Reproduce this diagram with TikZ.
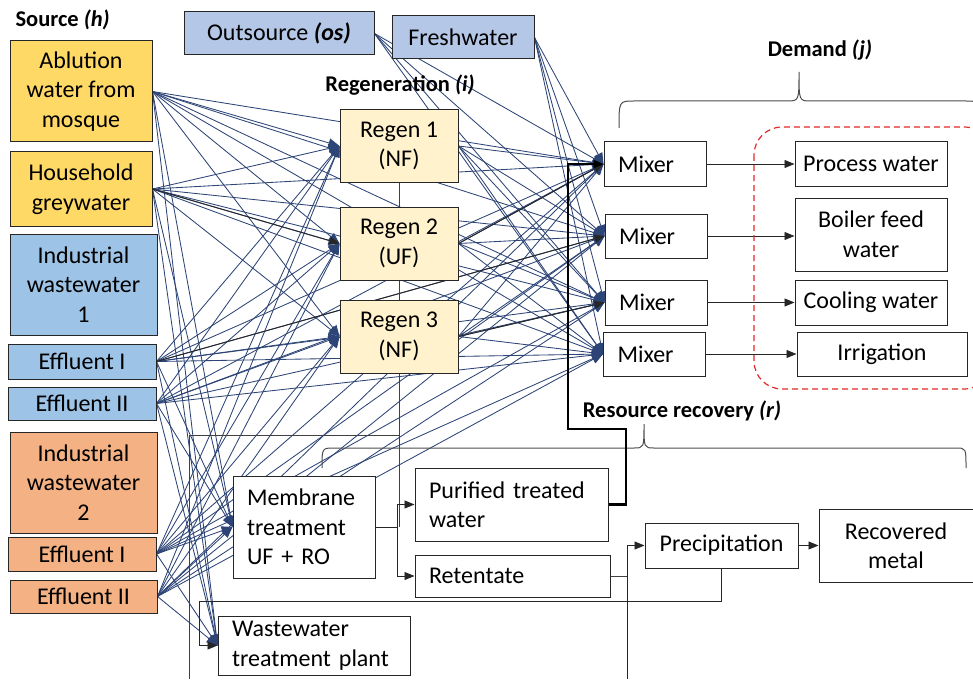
\documentclass[tikz,border=0pt]{standalone}
\usepackage{fontspec}
\setmainfont{Carlito}
\usetikzlibrary{arrows.meta,backgrounds}

\definecolor{netblue}{RGB}{45,68,118}
\definecolor{srcyellow}{RGB}{255,217,102}
\definecolor{srcblue}{RGB}{157,195,230}
\definecolor{srcorange}{RGB}{244,177,131}
\definecolor{osblue}{RGB}{180,199,231}
\definecolor{regenfill}{RGB}{255,242,204}
\definecolor{dashred}{RGB}{228,40,40}

\tikzset{
    box/.style={draw=black!85, line width=1pt, fill=white, align=center, inner sep=2pt},
    lbox/.style={box, align=left, text width=#1, inner xsep=14pt},
    head/.style={font=\bfseries\fontsize{22.5}{26}\selectfont},
    net/.style={netblue, line width=0.85pt, -{Triangle[length=11pt,width=9pt]}},
    flow/.style={black!85, line width=0.9pt, -{Triangle[length=10pt,width=8pt]}},
    plain/.style={black!75, line width=0.9pt}
}

\begin{document}
\begin{tikzpicture}[x=1pt, y=-1pt, font=\fontsize{24}{29.5}\selectfont]
    \useasboundingbox (0,0) rectangle (973,679);
    % Headings
    \node[head, anchor=west] (srclab) at (12,20) {Source \textit{(h)}};
    \node[head] (regenlab) at (400,85) {Regeneration \textit{(i)}};
    \node[head] (demlab) at (820,50) {Demand \textit{(j)}};
    \node[head] (reclab) at (682,411) {Resource recovery \textit{(r)}};
    % Sources
    \node[box, fill=srcyellow, minimum width=142pt, minimum height=101pt] (abl) at (81,91.5) {Ablution\\water from\\mosque};
    \node[box, fill=srcyellow, minimum width=142pt, minimum height=74pt] (hh) at (81,189) {Household\\greywater};
    \node[box, fill=srcblue, minimum width=147pt, minimum height=101pt] (iw1) at (83.5,284.5) {Industrial\\wastewater\\1};
    \node[box, fill=srcblue, minimum width=148pt, minimum height=35pt] (e1a) at (82,361.5) {Effluent I};
    \node[box, fill=srcblue, minimum width=148pt, minimum height=33pt] (e2a) at (82,403.5) {Effluent II};
    \node[box, fill=srcorange, minimum width=147pt, minimum height=101pt] (iw2) at (83.5,482.5) {Industrial\\wastewater\\2};
    \node[box, fill=srcorange, minimum width=148pt, minimum height=34pt] (e1b) at (82,554) {Effluent I};
    \node[box, fill=srcorange, minimum width=147pt, minimum height=33pt] (e2b) at (83.5,596.5) {Effluent II};
    % Outsource
    \node[box, fill=osblue, minimum width=190pt, minimum height=43pt] (os) at (279,33.5) {Outsource \textbf{\textit{(os)}}};
    \node[box, fill=osblue, minimum width=142pt, minimum height=43pt] (fw) at (463,37.5) {Freshwater};
    % Regeneration
    \node[box, fill=regenfill, minimum width=118pt, minimum height=72pt] (r1) at (399,146) {Regen 1\\(NF)};
    \node[box, fill=regenfill, minimum width=118pt, minimum height=73pt] (r2) at (399,243.5) {Regen 2\\(UF)};
    \node[box, fill=regenfill, minimum width=118pt, minimum height=73pt] (r3) at (399,336.5) {Regen 3\\(NF)};
    % Mixers and demands
    \node[lbox=74pt, minimum height=44pt] (m1) at (655,164) {Mixer};
    \node[lbox=74pt, minimum height=44pt] (m2) at (656,236) {Mixer};
    \node[lbox=74pt, minimum height=45pt] (m3) at (656,302.5) {Mixer};
    \node[lbox=74pt, minimum height=44pt] (m4) at (654.5,354) {Mixer};
    \node[box, minimum width=152pt, minimum height=44pt] (d1) at (871,164) {Process water};
    \node[box, minimum width=152pt, minimum height=73pt] (d2) at (871,234.5) {Boiler feed\\water};
    \node[box, minimum width=152pt, minimum height=45pt] (d3) at (871,302.5) {Cooling water};
    \node[box, minimum width=170pt, minimum height=44pt] (d4) at (882,354) {Irrigation};
    % Treatment and recovery
    \node[lbox=114pt, minimum height=102pt] (memb) at (304,527) {Membrane\\treatment\\UF + RO};
    \node[lbox=164pt, minimum height=59pt] (wwtp) at (314,645.5) {Wastewater\\treatment plant};
    \node[lbox=165pt, minimum height=73pt] (pur) at (511.5,504.5) {Purified treated\\water};
    \node[lbox=167pt, minimum height=42pt] (ret) at (512.5,576) {Retentate};
    \node[box, minimum width=153pt, minimum height=45pt] (prec) at (721.5,545.5) {Precipitation};
    \node[box, minimum width=154pt, minimum height=73pt] (rmet) at (896,545.5) {Recovered\\metal};
    % Free ends
    \coordinate (rjoin) at (399,435);
    \coordinate (rout) at (189,679);
    \coordinate (pin) at (627,679);
    \coordinate (pturn) at (568,429);

    \begin{pgfonlayer}{background}
        % Superstructure connections
        \foreach \s in {abl,hh,e1a,e2a,e1b,e2b}
            \foreach \t in {r1,r2,r3,m1,m2,m3,m4,memb,wwtp}
                \draw[net] (\s.east) -- (\t.west);
        \foreach \r in {r1,r2,r3,os,fw}
            \foreach \t in {m1,m2,m3,m4}
                \draw[net] (\r.east) -- (\t.west);
        \draw[flow] (hh.east) -- (r2.west);
        \draw[flow] (e1a.east) -- (m2.west);
        \draw[flow] (r2.east) -- (m1.west);
        \draw[flow] (r3.east) -- (m3.west);
        % Regeneration chain
        \draw[plain] (r1.south) -- (r2.north);
        \draw[plain] (r2.south) -- (r3.north);
        \draw[plain] (r3.south) -- (rjoin) -| (rout);
        \draw[plain] (rjoin) -- (rjoin |- memb.east);
    \end{pgfonlayer}

    % Demand side
    \draw[flow] (m1.east) -- (d1.west);
    \draw[flow] (m2.east) -- (m2.east -| d2.west);
    \draw[flow] (m3.east) -- (d3.west);
    \draw[flow] (m4.east) -- (d4.west);
    \draw[dashred, line width=1.2pt, dash pattern=on 6pt off 4pt, rounded corners=28pt] (754,127) rectangle (992,389);
    % Braces
    \draw[black!70, line width=1pt] (619,128) .. controls (619,101) .. (634,101) -- (787,101) .. controls (799,101) .. (799,72) .. controls (799,101) .. (811,101) -- (966,101) .. controls (980,101) .. (980,128);
    \draw[black!70, line width=1pt] (322,468) .. controls (322,448) .. (334,448) -- (634,448) .. controls (644,448) .. (644,424) .. controls (644,448) .. (654,448) -- (956,448) .. controls (966,448) .. (966,468);
    % Recovery flows
    \draw[flow] (memb.east) -- ++(22,0) |- (pur.west);
    \draw[flow] (memb.east) -- ++(22,0) |- (ret.west);
    \draw[line width=2.4pt, -{Triangle[length=10pt,width=8pt]}] (pur.east) -| (626,429) -- (pturn) |- (m1.west);
    \draw[plain] (ret.east) -- (ret.east -| pin);
    \draw[flow] (pin) |- (prec.west);
    \draw[flow] (prec) -- (rmet);
    \draw[flow] (prec.south) |- (199,601) |- (wwtp.west);
\end{tikzpicture}
\end{document}
